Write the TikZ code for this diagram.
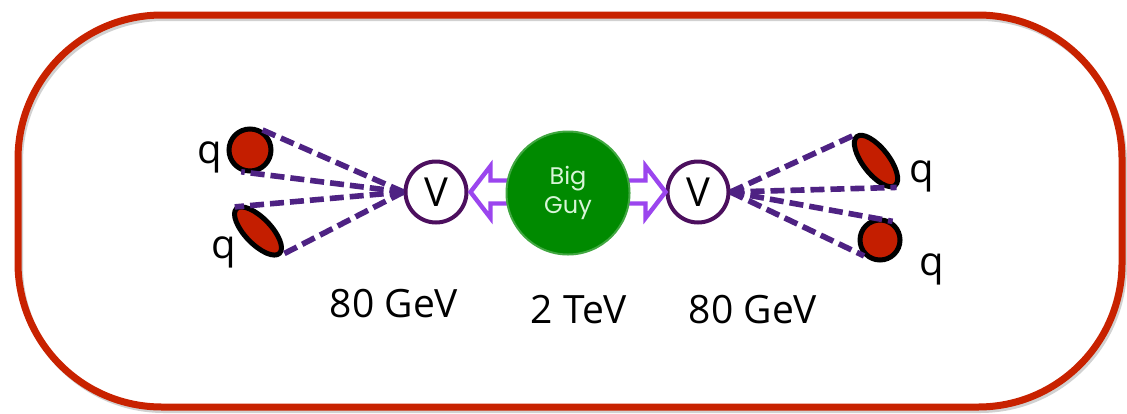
\documentclass[tikz,border=0pt]{standalone}
\usepackage{fontspec}
\setmainfont{Open Sans}
\newfontfamily\guyfont{Poppins}
\usetikzlibrary{shapes.geometric}

\definecolor{framered}{HTML}{C82200}
\definecolor{quarkred}{HTML}{C41E00}
\definecolor{jetpurple}{HTML}{4E2283}
\definecolor{bosonpurple}{HTML}{4C0F5E}
\definecolor{decaypurple}{HTML}{9B45EE}
\definecolor{guygreen}{HTML}{008A00}
\definecolor{guytext}{HTML}{D8F5D8}

\begin{document}
\begin{tikzpicture}[x=0.5pt,y=-0.5pt,
		quark/.style={draw=black,line width=2.5pt,fill=quarkred,inner sep=0},
		boson/.style={circle,draw=bosonpurple,line width=2pt,fill=white,minimum size=30.5pt,inner sep=0,font=\fontsize{20}{24}\selectfont},
		jet/.style={draw=jetpurple,line width=2.8pt,dash pattern=on 7pt off 3pt},
		hollow/.style={draw=decaypurple,line width=2.2pt,fill=white,line join=miter},
		flav/.style={anchor=base,font=\fontsize{20}{24}\selectfont},
		mass/.style={anchor=base,font=\fontsize{19.5}{24}\selectfont}]
	\useasboundingbox (0,0) rectangle (1127,413);

	% frame
	\draw[line width=3pt,black!18,rounded corners=72pt] (20,18) rectangle (1124,410);
	\draw[line width=3.5pt,framered,rounded corners=72pt] (18,15) rectangle (1122,407);

	% the two V's
	\node[boson] (va) at (436,192) {V};
	\node[boson] (vb) at (698,192) {V};

	% decay arrows, shafts hidden under the big guy
	\draw[hollow] ([xshift=1pt]va.east) -- ++(20,-26) -- ++(0,14.5) -- ++(22,0) -- ++(0,23) -- ++(-22,0) -- ++(0,14.5) -- cycle;
	\draw[hollow] (vb.west) -- ++(-20,-26) -- ++(0,14.5) -- ++(-22,0) -- ++(0,23) -- ++(22,0) -- ++(0,14.5) -- cycle;

	\node[circle,fill=guygreen,draw=guygreen!75!white,line width=1pt,minimum size=61.5pt,inner sep=0,
		align=center,text=guytext,font=\guyfont\fontsize{12}{14.5}\selectfont] (guy) at (568,193) {Big\\Guy};

	% quarks
	\node[quark,circle,minimum size=21pt] (qa) at (250,150) {};
	\node[quark,ellipse,rotate=-46,minimum width=31pt,minimum height=13pt] (qb) at (258,231) {};
	\node[quark,ellipse,rotate=-52,minimum width=31pt,minimum height=13pt] (qc) at (876,161) {};
	\node[quark,circle,minimum size=20pt] (qd) at (880,240) {};

	\foreach \e in {qa.60,qa.-112,qb.west,qb.east}
		\draw[jet] (va.west) -- (\e);
	\foreach \e in {qc.west,qc.east,qd.56,qd.225}
		\draw[jet] (vb.east) -- (\e);

	% labels
	\node[flav] (la) at (210,163) {q};
	\node[flav] (lb) at (224,258) {q};
	\node[flav] (lc) at (922,182) {q};
	\node[flav] (ld) at (932,275) {q};
	\node[mass] (ma) at (394,317) {80 GeV};
	\node[mass] (mg) at (579,323) {2 TeV};
	\node[mass] (mb) at (753,323) {80 GeV};
\end{tikzpicture}
\end{document}
